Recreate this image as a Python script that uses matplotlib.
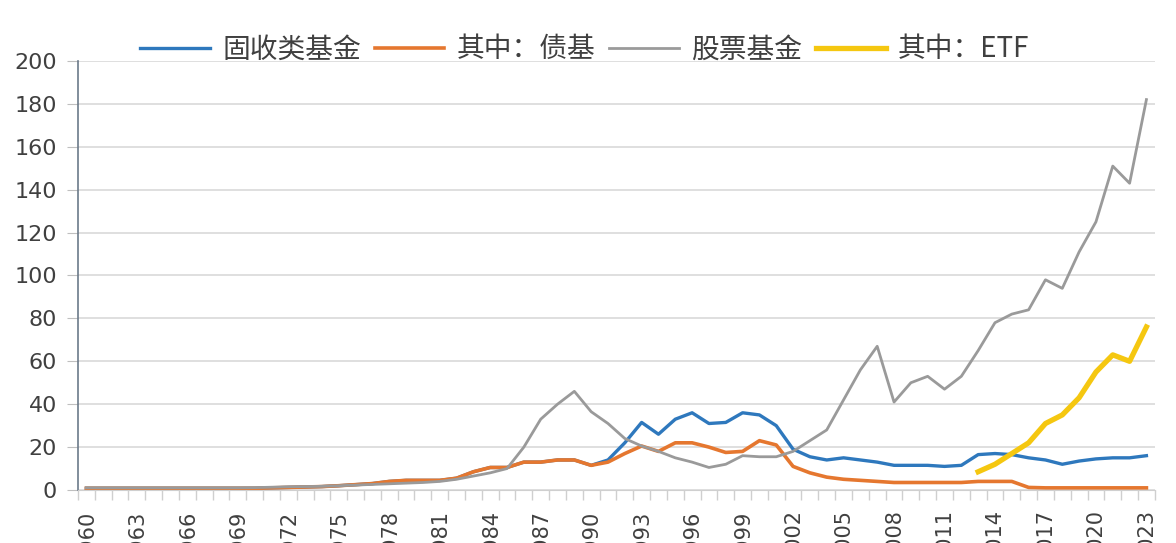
import numpy as np
import matplotlib
matplotlib.use("Agg")
from matplotlib import pyplot as plt

years = list(range(1960, 2024))

# 股票基金
equity = [1.0, 1.0, 1.0, 1.0, 1.0, 1.0, 1.0, 1.0, 1.0, 1.0,
          1.1, 1.3, 1.5, 1.6, 1.7, 2.0, 2.3, 2.6, 2.9, 3.2,
          3.5, 4.0, 5.0, 6.5, 8.0, 10.0, 20.0, 33.0, 40.0, 46.0,
          36.5, 31.0, 24.0, 20.5, 18.0, 15.0, 13.0, 10.5, 12.0, 16.0,
          15.5, 15.5, 18.0, 23.0, 28.0, 42.0, 56.0, 67.0, 41.0, 50.0,
          53.0, 47.0, 53.0, 65.0, 78.0, 82.0, 84.0, 98.0, 94.0, 111.0,
          125.0, 151.0, 143.0, 182.0]

# 其中：债基
bond = [0.8, 0.8, 0.8, 0.8, 0.8, 0.8, 0.8, 0.8, 0.8, 0.8,
        0.8, 1.0, 1.2, 1.4, 1.6, 2.0, 2.5, 3.0, 4.0, 4.5,
        4.5, 4.5, 5.5, 8.5, 10.5, 10.5, 13.0, 13.0, 14.0, 14.0,
        11.5, 13.0, 17.0, 20.5, 18.0, 22.0, 22.0, 20.0, 17.5, 18.0,
        23.0, 21.0, 11.0, 8.0, 6.0, 5.0, 4.5, 4.0, 3.5, 3.5,
        3.5, 3.5, 3.5, 4.0, 4.0, 4.0, 1.2, 1.0, 1.0, 1.0,
        1.0, 1.0, 1.0, 1.0]

# 固收类基金 (same as bond funds before 1991)
fixed_income = bond[:31] + [14.0, 22.0, 31.5, 26.0, 33.0, 36.0, 31.0, 31.5, 36.0,
                            35.0, 30.0, 19.0, 15.5, 14.0, 15.0, 14.0, 13.0, 11.5, 11.5,
                            11.5, 11.0, 11.5, 16.5, 17.0, 16.5, 15.0, 14.0, 12.0, 13.5,
                            14.5, 15.0, 15.0, 16.0]

etf_years = list(range(2013, 2024))
etf = [8.5, 12.0, 17.0, 22.0, 31.0, 35.0, 43.0, 55.0, 63.0, 60.0, 76.0]

labels = ["固收类基金", "其中：债基", "股票基金", "其中：ETF"]
colors = ["#2e78bd", "#e5772f", "#9a9a9a", "#f5c710"]

fig = plt.figure(figsize=(11.76, 5.43), dpi=100)
ax = fig.add_axes([0.0663, 0.0976, 0.9157, 0.7901])

ax.plot(years, fixed_income, color=colors[0], lw=2.4, label=labels[0], solid_joinstyle="round")
ax.plot(years, bond, color=colors[1], lw=2.6, label=labels[1], solid_joinstyle="round")
ax.plot(years, equity, color=colors[2], lw=2.0, label=labels[2], solid_joinstyle="round")
ax.plot(etf_years, etf, color=colors[3], lw=3.8, label=labels[3], solid_joinstyle="round")

ax.set_xlim(1959.5, 2023.5)
ax.set_ylim(0, 200)
ax.set_yticks(np.arange(0, 201, 20))
ax.grid(axis="y", color="#d9d9d9", lw=1.2)
ax.set_axisbelow(True)

ax.set_xticks(years[::3])
ax.set_xticklabels([str(y) for y in years[::3]], rotation=90, va="top")
ax.set_xticks(np.arange(1959.5, 2024, 1), minor=True)
ax.tick_params(axis="x", which="major", length=0, pad=14, labelsize=15, labelcolor="#404040")
ax.tick_params(axis="x", which="minor", length=7, color="#cfcfcf", width=1)
ax.tick_params(axis="y", length=8, color="#bfbfbf", pad=7, labelsize=16, labelcolor="#404040")

for s in ["top", "right"]:
    ax.spines[s].set_visible(False)
ax.spines["bottom"].set_color("#cfcfcf")
ax.spines["left"].set_color("#6b7a8a")
ax.spines["left"].set_linewidth(1.2)

fig.legend(loc="center", bbox_to_anchor=(0.4974, 0.909), ncol=4, frameon=False,
           handlelength=2.5, handletextpad=0.45, columnspacing=0.5,
           prop={"family": ["Noto Sans CJK SC", "DejaVu Sans"], "size": 20},
           labelcolor="#404040")

fig.savefig("out.png", dpi=100)
